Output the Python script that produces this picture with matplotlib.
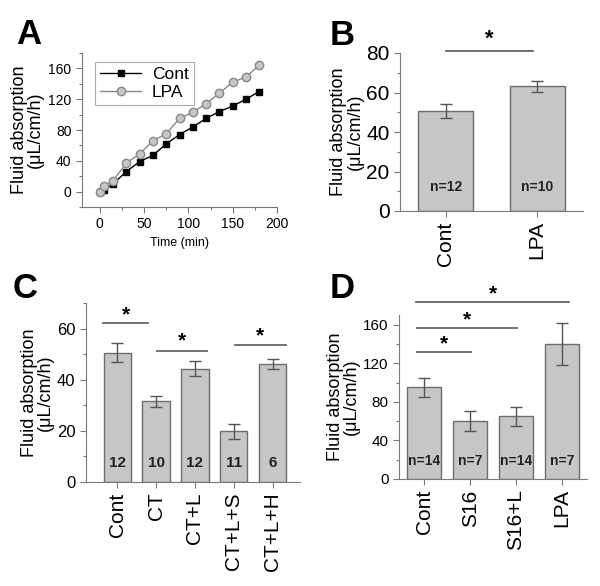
import matplotlib
matplotlib.use("Agg")
import matplotlib.pyplot as plt
from matplotlib.ticker import AutoMinorLocator

plt.rcParams['font.family'] = ['Liberation Sans', 'DejaVu Sans']

# panel A
time_min = [0, 5, 15, 30, 45, 60, 75, 90, 105, 120, 135, 150, 165, 180]
cont_a = [0, 2, 10, 26, 39, 47, 62, 74, 84, 95, 104, 111, 120, 130]
lpa_a = [0, 7, 14, 37, 49, 66, 75, 95, 103, 114, 128, 142, 149, 164]

# panel B
cats_b = ["Cont", "LPA"]
vals_b = [50.5, 63.2]
errs_b = [3.6, 2.8]
n_b = ["n=12", "n=10"]

# panel C
cats_c = ["Cont", "CT", "CT+L", "CT+L+S", "CT+L+H"]
vals_c = [50.6, 31.5, 44.3, 19.8, 46.0]
errs_c = [3.6, 2.2, 3.0, 2.9, 2.0]
n_c = ["12", "10", "12", "11", "6"]

# panel D
cats_d = ["Cont", "S16", "S16+L", "LPA"]
vals_d = [95, 60, 65, 140]
errs_d = [10, 10, 10, 22]
n_d = ["n=14", "n=7", "n=14", "n=7"]

W, H = 600, 586
fig = plt.figure(figsize=(6, 5.86), dpi=100)

def ax_px(l, r, t, b):
    return fig.add_axes([l / W, 1 - b / H, (r - l) / W, (b - t) / H])

spine_c = "#7a7a7a"
bar_c = "#c6c6c6"
edge_c = "#6e6e6e"
ylab = "Fluid absorption\n(\u03bcL/cm/h)"

def style(ax, fs):
    for s in ["top", "right"]:
        ax.spines[s].set_visible(False)
    for s in ["left", "bottom"]:
        ax.spines[s].set_color(spine_c)
    ax.tick_params(direction="out", color=spine_c, labelsize=fs, length=4, width=0.8)
    ax.tick_params(which="minor", direction="out", color=spine_c, length=2, width=0.8)

def bars(ax, cats, vals, errs, width, fs, nlabels, ny, nfs):
    x = list(range(len(cats)))
    ax.bar(x, vals, width=width, color=bar_c, edgecolor=edge_c, linewidth=1)
    ax.errorbar(x, vals, yerr=errs, fmt="none", ecolor="#555555", elinewidth=1, capsize=4, capthick=1)
    ax.set_xticks(x)
    ax.set_xticklabels(cats, rotation=90, fontsize=fs)
    for xi, t in zip(x, nlabels):
        ax.text(xi, ny, t, ha="center", va="center", fontsize=nfs, fontweight="bold", color="#222222")

def sig(ax, x1, x2, y, ty, fs=15):
    ax.plot([x1, x2], [y, y], color="#666666", lw=1.3, clip_on=False)
    ax.text((x1 + x2) / 2, ty, "*", ha="center", va="center", fontsize=fs, fontweight="bold", clip_on=False)

# A
ax = ax_px(82, 277, 53, 207)
style(ax, 10)
ax.plot(time_min, cont_a, "-s", color="black", lw=1, ms=5, mfc="black", label="Cont")
ax.plot(time_min, lpa_a, "-o", color="#888888", lw=1, ms=6, mfc="#c6c6c6", mec="#888888", label="LPA")
ax.set_xlim(-20, 200)
ax.set_ylim(-20, 180)
ax.set_xticks([0, 50, 100, 150, 200])
ax.set_yticks([0, 40, 80, 120, 160])
ax.xaxis.set_minor_locator(AutoMinorLocator(2))
ax.yaxis.set_minor_locator(AutoMinorLocator(2))
ax.set_xlabel("Time (min)", fontsize=9)
ax.set_ylabel(ylab, fontsize=13, linespacing=0.95, labelpad=3)
leg = ax.legend(loc="upper left", fontsize=12.5, frameon=True, fancybox=False, edgecolor="#999999",
                handlelength=2.4, borderpad=0.3, labelspacing=0.15, handletextpad=0.6,
                bbox_to_anchor=(0.02, 1.0))
leg.get_frame().set_linewidth(0.8)

# B
ax = ax_px(400, 583, 53, 211)
style(ax, 15)
bars(ax, cats_b, vals_b, errs_b, 0.6, 15, n_b, 12, 10)
ax.set_xlim(-0.5, 1.5)
ax.set_ylim(0, 80)
ax.set_yticks([0, 20, 40, 60, 80])
ax.yaxis.set_minor_locator(AutoMinorLocator(2))
ax.set_ylabel(ylab, fontsize=13, linespacing=0.95, labelpad=2)
sig(ax, 0, 0.95, 81, 87, 16)

# C
ax = ax_px(86, 300, 303, 482)
style(ax, 12)
bars(ax, cats_c, vals_c, errs_c, 0.7, 15, n_c, 7.5, 11)
ax.set_xlim(-0.8, 4.7)
ax.set_ylim(0, 70)
ax.set_yticks([0, 20, 40, 60])
ax.yaxis.set_minor_locator(AutoMinorLocator(2))
ax.set_ylabel(ylab, fontsize=13, linespacing=0.95, labelpad=2)
sig(ax, -0.36, 0.79, 62, 65.5)
sig(ax, 1.02, 2.32, 51.4, 55)
sig(ax, 3.03, 4.33, 53.4, 57)

# D
ax = ax_px(399, 587, 315, 479)
style(ax, 11)
bars(ax, cats_d, vals_d, errs_d, 0.75, 15, n_d, 19, 10)
ax.set_xlim(-0.55, 3.55)
ax.set_ylim(0, 170)
ax.set_yticks([0, 40, 80, 120, 160])
ax.yaxis.set_minor_locator(AutoMinorLocator(2))
ax.set_ylabel(ylab, fontsize=13, linespacing=0.95, labelpad=2)
sig(ax, -0.18, 3.16, 183, 192)
sig(ax, -0.15, 2.03, 157, 165)
sig(ax, -0.15, 1.03, 132, 140)

for lab, x, y in [("A", 16, 18), ("B", 330, 19), ("C", 13, 272), ("D", 330, 272)]:
    fig.text(x / W, 1 - y / H, lab, fontsize=25, fontweight="bold", va="top", ha="left")

fig.savefig("out.png", dpi=100)
